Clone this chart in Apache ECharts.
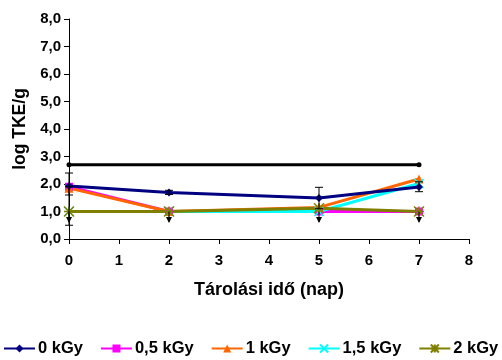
<!DOCTYPE html>
<html><head><meta charset="utf-8">
<script src="https://cdn.jsdelivr.net/npm/echarts@6/dist/echarts.min.js"></script>
<style>html,body{margin:0;padding:0;background:#fff}#c{width:502px;height:360px}</style>
</head><body><div id="c"></div>
<script>
var days = [0, 2, 5, 7];
var seriesNames = ['0 kGy', '0,5 kGy', '1 kGy', '1,5 kGy', '2 kGy'];
var s0 = [1.93, 1.69, 1.49, 1.89];
var s05 = [1.9, 1.0, 1.0, 1.0];
var s1 = [1.85, 1.0, 1.15, 2.18];
var s15 = [1.0, 1.0, 1.0, 2.02];
var s2 = [1.0, 1.0, 1.12, 1.0];
var limitDays = [0, 7];
var limitLine = [2.7, 2.7];
// error bars: [x, low, high]
var errBars = [[0, 1.6, 2.4], [0, 0.5, 1.9], [2, 1.62, 1.77], [5, 1.1, 1.88], [7, 1.72, 2.08]];
// downward arrows (detection limit): [x, from, to]
var arrows = [[0, 1.0, 0.62], [2, 1.0, 0.62], [5, 1.0, 0.62], [7, 1.0, 0.62]];

var colors = ['#000080', '#ff00ff', '#ff6600', '#00ffff', '#808000'];
var symbols = ['diamond', 'rect', 'triangle', 'path://M0,0L10,10M10,0L0,10', 'path://M0,0L10,10M10,0L0,10M5,0L5,10M0,5L10,5'];
var sizes = [8, 8, 9, 9, 10];
var dataSets = [s0, s05, s1, s15, s2];

function pairs(xs, arr){ return xs.map(function(d,i){ return [d, arr[i]]; }); }

var series = [];
series.push({
  type: 'line', name: 'limit', data: pairs(limitDays, limitLine), symbol: 'circle', symbolSize: 5,
  lineStyle: {color: '#000', width: 3}, itemStyle: {color: '#000'}, z: 1
});
series.push({
  type: 'custom', name: 'err', z: 5,
  data: errBars,
  renderItem: function(params, api){
    var x = api.value(0);
    var lo = api.coord([x, api.value(1)]);
    var hi = api.coord([x, api.value(2)]);
    var w = 4;
    return {type: 'group', children: [
      {type: 'line', shape: {x1: lo[0], y1: lo[1], x2: hi[0], y2: hi[1]}, style: {stroke: '#000', lineWidth: 1}},
      {type: 'line', shape: {x1: lo[0]-w, y1: lo[1], x2: lo[0]+w, y2: lo[1]}, style: {stroke: '#000', lineWidth: 1}},
      {type: 'line', shape: {x1: hi[0]-w, y1: hi[1], x2: hi[0]+w, y2: hi[1]}, style: {stroke: '#000', lineWidth: 1}}
    ]};
  }
});
series.push({
  type: 'custom', name: 'arr', z: 5,
  data: arrows,
  renderItem: function(params, api){
    var x = api.value(0);
    var a = api.coord([x, api.value(1)]);
    var b = api.coord([x, api.value(2)]);
    return {type: 'group', children: [
      {type: 'line', shape: {x1: a[0], y1: a[1], x2: b[0], y2: b[1]}, style: {stroke: '#000', lineWidth: 1}},
      {type: 'polygon', shape: {points: [[b[0]-3, b[1]-5], [b[0]+3, b[1]-5], [b[0], b[1]+1]]}, style: {fill: '#000'}}
    ]};
  }
});
dataSets.forEach(function(arr, i){
  var isStroke = i >= 3;
  series.push({
    type: 'line', name: seriesNames[i], data: pairs(days, arr),
    symbol: symbols[i], symbolSize: sizes[i],
    lineStyle: {color: colors[i], width: 3},
    itemStyle: isStroke ? {color: 'transparent', borderColor: colors[i], borderWidth: 1.5} : {color: colors[i]},
    z: 3 + (i === 0 ? 1 : 0)
  });
});

var chart = echarts.init(document.getElementById('c'), null, {renderer: 'canvas'});
chart.setOption({
  animation: false,
  color: colors,
  grid: {left: 69, right: 33, top: 19, bottom: 121, containLabel: false},
  legend: {
    data: seriesNames, bottom: 0, left: 0, padding: [3, 0, 3, 3], itemGap: 17, itemWidth: 31, itemHeight: 10,
    textStyle: {fontFamily: 'Liberation Sans', fontWeight: 'bold', fontSize: 16.5, color: '#000', padding: [0, 0, 0, -2]}
  },
  xAxis: {
    type: 'value', min: 0, max: 8, interval: 1,
    name: 'Tárolási idő (nap)', nameLocation: 'middle', nameGap: 42,
    nameTextStyle: {fontFamily: 'Liberation Sans', fontWeight: 'bold', fontSize: 18, color: '#000'},
    axisLine: {lineStyle: {color: '#000', width: 1}},
    axisTick: {inside: false, length: 5, lineStyle: {color: '#000'}},
    axisLabel: {fontFamily: 'Liberation Sans', fontWeight: 'bold', fontSize: 15, color: '#000', margin: 14},
    splitLine: {show: false}
  },
  yAxis: {
    type: 'value', min: 0, max: 8, interval: 1,
    name: 'log TKE/g', nameLocation: 'middle', nameGap: 36, nameRotate: 90,
    nameTextStyle: {fontFamily: 'Liberation Sans', fontWeight: 'bold', fontSize: 17.5, color: '#000'},
    axisLine: {show: true, lineStyle: {color: '#000', width: 1}},
    axisTick: {show: true, inside: false, length: 5, lineStyle: {color: '#000'}},
    axisLabel: {fontFamily: 'Liberation Sans', fontWeight: 'bold', fontSize: 15, color: '#000', margin: 8,
      formatter: function(v){ return v.toFixed(1).replace('.', ','); }},
    splitLine: {show: false}
  },
  series: series
});
</script></body></html>
